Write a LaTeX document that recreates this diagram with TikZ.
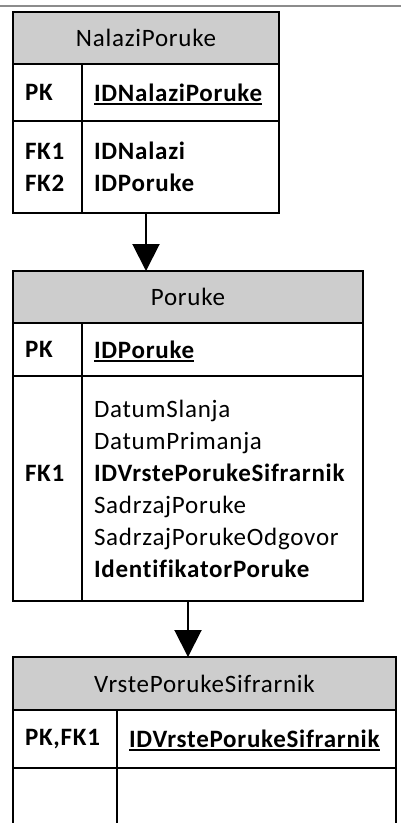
\documentclass[tikz,border=0pt]{standalone}
\usepackage{fontspec}
\setmainfont{Carlito}[LetterSpace=3, Ligatures=NoCommon]
\usepackage{tikz}
\usetikzlibrary{arrows.meta, positioning}
\definecolor{headgray}{RGB}{205,205,205}
\definecolor{rulegray}{RGB}{140,140,140}
\newcommand{\pkcol}[1]{\setbox0\hbox{\bfseries #1}\rlap{\smash{\rule[-3.5pt]{\wd0}{1.8pt}}}\box0}

\begin{document}
\begin{tikzpicture}[x=1pt, y=-1pt,
    cell/.style={draw, line width=2pt, outer sep=0pt, inner xsep=12pt, inner ysep=0pt,
                 align=left, font=\fontsize{25pt}{32pt}\selectfont},
    head/.style={cell, fill=headgray, align=center},
    fkarrow/.style={-{Triangle[width=27pt, length=27pt]}, line width=2pt}
]
\useasboundingbox (0,0) rectangle (401,823);
\clip (0,0) rectangle (401,823);
\draw[rulegray, line width=2.5pt] (0,6) -- (401,6);

% NalaziPoruke
\node[head, minimum width=266pt, minimum height=52pt, anchor=north west] (nph) at (13,12) {NalaziPoruke};
\node[cell, text width=45pt, minimum height=57pt, below right=0pt of nph.south west] (nppk) {\textbf{PK}};
\node[cell, text width=173pt, minimum height=57pt, right=0pt of nppk] (npid) {\pkcol{IDNalaziPoruke}};
\node[cell, text width=45pt, minimum height=92pt, below right=0pt of nppk.south west] (npfk)
    {\vphantom{l}\textbf{FK1}\\ \textbf{FK2}};
\node[cell, text width=173pt, minimum height=92pt, right=0pt of npfk] (npcol)
    {\textbf{IDNalazi}\\ \textbf{IDPoruke}};

% Poruke
\node[head, minimum width=350pt, minimum height=52pt, below right=58pt and 0pt of npfk.south west] (poh) {Poruke};
\node[cell, text width=45pt, minimum height=53pt, below right=0pt of poh.south west] (popk) {\textbf{PK}};
\node[cell, text width=257pt, minimum height=53pt, right=0pt of popk] (poid) {\pkcol{IDPoruke}};
\node[cell, text width=45pt, minimum height=225pt, below right=0pt of popk.south west] (pofk)
    {\vphantom{l}\\ \mbox{}\\ \textbf{FK1}\\ \mbox{}\\ \mbox{}\\ \mbox{}};
\node[cell, text width=257pt, minimum height=225pt, right=0pt of pofk] (pocol)
    {DatumSlanja\\ DatumPrimanja\\ \textbf{IDVrstePorukeSifrarnik}\\ SadrzajPoruke\\
     SadrzajPorukeOdgovor\\ \textbf{IdentifikatorPoruke}};

% VrstePorukeSifrarnik
\node[head, minimum width=383pt, minimum height=53pt, below right=56pt and 0pt of pofk.south west] (vph) {VrstePorukeSifrarnik};
\node[cell, text width=80pt, minimum height=58pt, below right=0pt of vph.south west] (vppk) {\textbf{PK,FK1}};
\node[cell, text width=255pt, minimum height=58pt, right=0pt of vppk] (vpid) {\pkcol{IDVrstePorukeSifrarnik}};
\node[cell, text width=80pt, minimum height=80pt, below right=0pt of vppk.south west] (vpfk) {};
\node[cell, text width=255pt, minimum height=80pt, right=0pt of vpfk] (vpcol) {};

\draw[fkarrow] (nph.south |- npfk.south) -- (nph.south |- poh.north);
\draw[fkarrow] (poh.south |- pofk.south) -- (poh.south |- vph.north);
\end{tikzpicture}
\end{document}
